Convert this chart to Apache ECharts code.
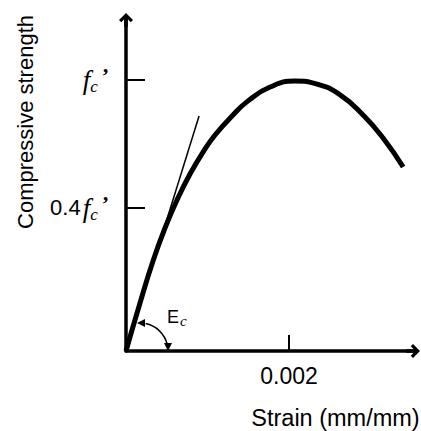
<!DOCTYPE html>
<html>
<head>
<meta charset="utf-8">
<script src="https://cdn.jsdelivr.net/npm/echarts@6/dist/echarts.min.js"></script>
<style>
html,body{margin:0;padding:0;background:#fff;}
#chart{width:421px;height:431px;}
</style>
</head>
<body>
<div id="chart"></div>
<script>
// Stress-strain curve (strain in mm/mm, stress as a fraction of the plotted scale)
const curveStrain = [0, 0.0001718, 0.0003313, 0.0004785, 0.000638, 0.0007853, 0.0009448, 0.001092, 0.0013006, 0.001497, 0.001767, 0.002074, 0.002344, 0.002626, 0.002908, 0.003153, 0.003399];
const curveStress = [0, 0.177, 0.332, 0.454, 0.565, 0.653, 0.734, 0.797, 0.867, 0.923, 0.974, 0.996, 0.985, 0.945, 0.871, 0.786, 0.679];
// Secant (modulus) line through the origin
const secantStrain = [0, 0.000896];
const secantStress = [0, 0.867];
// Tick positions and labels
const xTickValues = [0.002];
const xTickLabels = ['0.002'];
const yTickValues = [0.528, 1.0];
const yTickLabels = ['{n|0.4}{f|f}{c|c}{p|’}', '{f|f}{c|c}{p|’}'];
const xAxisName = 'Strain (mm/mm)';
const yAxisName = 'Compressive strength';

const xMax = 0.00352;
const yMax = 1.2214;

const zipPts = (xs, ys) => xs.map((x, i) => [x, ys[i]]);
const arrowPath = 'path://M50,0 L100,50 L84,66 L63,45 L63,100 L37,100 L37,45 L16,66 L0,50 Z';

const chart = echarts.init(document.getElementById('chart'), null, {renderer: 'svg'});
const sans = 'Liberation Sans, Arial, Helvetica, sans-serif';
const serif = 'Liberation Serif, Times New Roman, serif';

const option = {
  animation: false,
  backgroundColor: '#fff',
  graphic: [
    {type: 'text', rotation: Math.PI / 2, x: 25, y: 122,
      style: {text: yAxisName, fontFamily: sans, fontSize: 22, fill: '#000', align: 'center', verticalAlign: 'middle'}}
  ],
  grid: {left: 126, right: 8, top: 20, bottom: 80, containLabel: false, outerBoundsMode: 'none'},
  xAxis: {
    type: 'value', min: 0, max: xMax,
    name: xAxisName, nameLocation: 'middle', nameGap: 55,
    nameTextStyle: {fontFamily: sans, fontSize: 23.5, color: '#000', padding: [0, 0, 0, 132]},
    axisLine: {show: true, lineStyle: {color: '#000', width: 3.5}, symbol: ['none', arrowPath], symbolSize: [15, 14]},
    axisTick: {show: true, inside: true, length: 16, lineStyle: {color: '#000', width: 2}, customValues: xTickValues},
    axisLabel: {show: true, customValues: xTickValues, margin: 13, fontFamily: sans, fontSize: 23, color: '#000',
      formatter: v => { const i = xTickValues.indexOf(v); return i >= 0 ? xTickLabels[i] : ''; }},
    splitLine: {show: false}
  },
  yAxis: {
    type: 'value', min: 0, max: yMax,
    axisLine: {show: true, lineStyle: {color: '#000', width: 3.5}, symbol: ['none', arrowPath], symbolSize: [15, 14]},
    axisTick: {show: true, inside: true, length: 19, lineStyle: {color: '#000', width: 2}, customValues: yTickValues},
    axisLabel: {show: true, customValues: yTickValues, margin: 17, color: '#000',
      formatter: v => { const i = yTickValues.indexOf(v); return i >= 0 ? yTickLabels[i] : ''; },
      rich: {
        n: {fontFamily: sans, fontSize: 22, color: '#000', padding: [0, 2, 0, 0]},
        f: {fontFamily: serif, fontStyle: 'italic', fontSize: 27, lineHeight: 30, color: '#000'},
        c: {fontFamily: serif, fontStyle: 'italic', fontSize: 17, lineHeight: 17, verticalAlign: 'bottom', color: '#000'},
        p: {fontFamily: serif, fontWeight: 'bold', fontSize: 22, lineHeight: 22, verticalAlign: 'top', color: '#000', padding: [0, 0, 0, 4]}
      }},
    splitLine: {show: false}
  },
  series: [
    {
      type: 'line', data: zipPts(curveStrain, curveStress), smooth: 0.5, showSymbol: false,
      lineStyle: {color: '#000', width: 5}, silent: true, z: 3
    },
    {
      type: 'line', data: zipPts(secantStrain, secantStress), showSymbol: false,
      lineStyle: {color: '#000', width: 1.5}, silent: true, z: 4
    },
    {
      type: 'custom', coordinateSystem: 'cartesian2d', silent: true, z: 5,
      data: [[0, 0]],
      renderItem: function (params, api) {
        const o = api.coord([api.value(0), api.value(1)]);
        const cx = o[0] + 14, cy = o[1], r = 28;
        return {
          type: 'group',
          children: [
            {type: 'arc', shape: {cx: cx, cy: cy, r: r, startAngle: -Math.PI / 2 + 0.2, endAngle: -0.25, clockwise: true},
              style: {stroke: '#000', lineWidth: 1.6, fill: null}},
            {type: 'polygon', shape: {points: [[cx - 3, cy - r], [cx + 5, cy - r - 4], [cx + 5, cy - r + 4]]},
              style: {fill: '#000'}},
            {type: 'polygon', shape: {points: [[cx + r, cy], [cx + r - 4, cy - 8], [cx + r + 4, cy - 8]]},
              style: {fill: '#000'}},
            {type: 'text', x: cx + 27, y: cy - 34,
              style: {text: '{e|E}{c|c}', align: 'left', verticalAlign: 'middle',
                rich: {
                  e: {fontFamily: sans, fontSize: 18, lineHeight: 22, fill: '#000'},
                  c: {fontFamily: serif, fontStyle: 'italic', fontSize: 15, lineHeight: 15, verticalAlign: 'bottom', fill: '#000', padding: [0, 0, 0, 1]}
                }}}
          ]
        };
      }
    }
  ]
};
chart.setOption(option);
</script>
</body>
</html>
